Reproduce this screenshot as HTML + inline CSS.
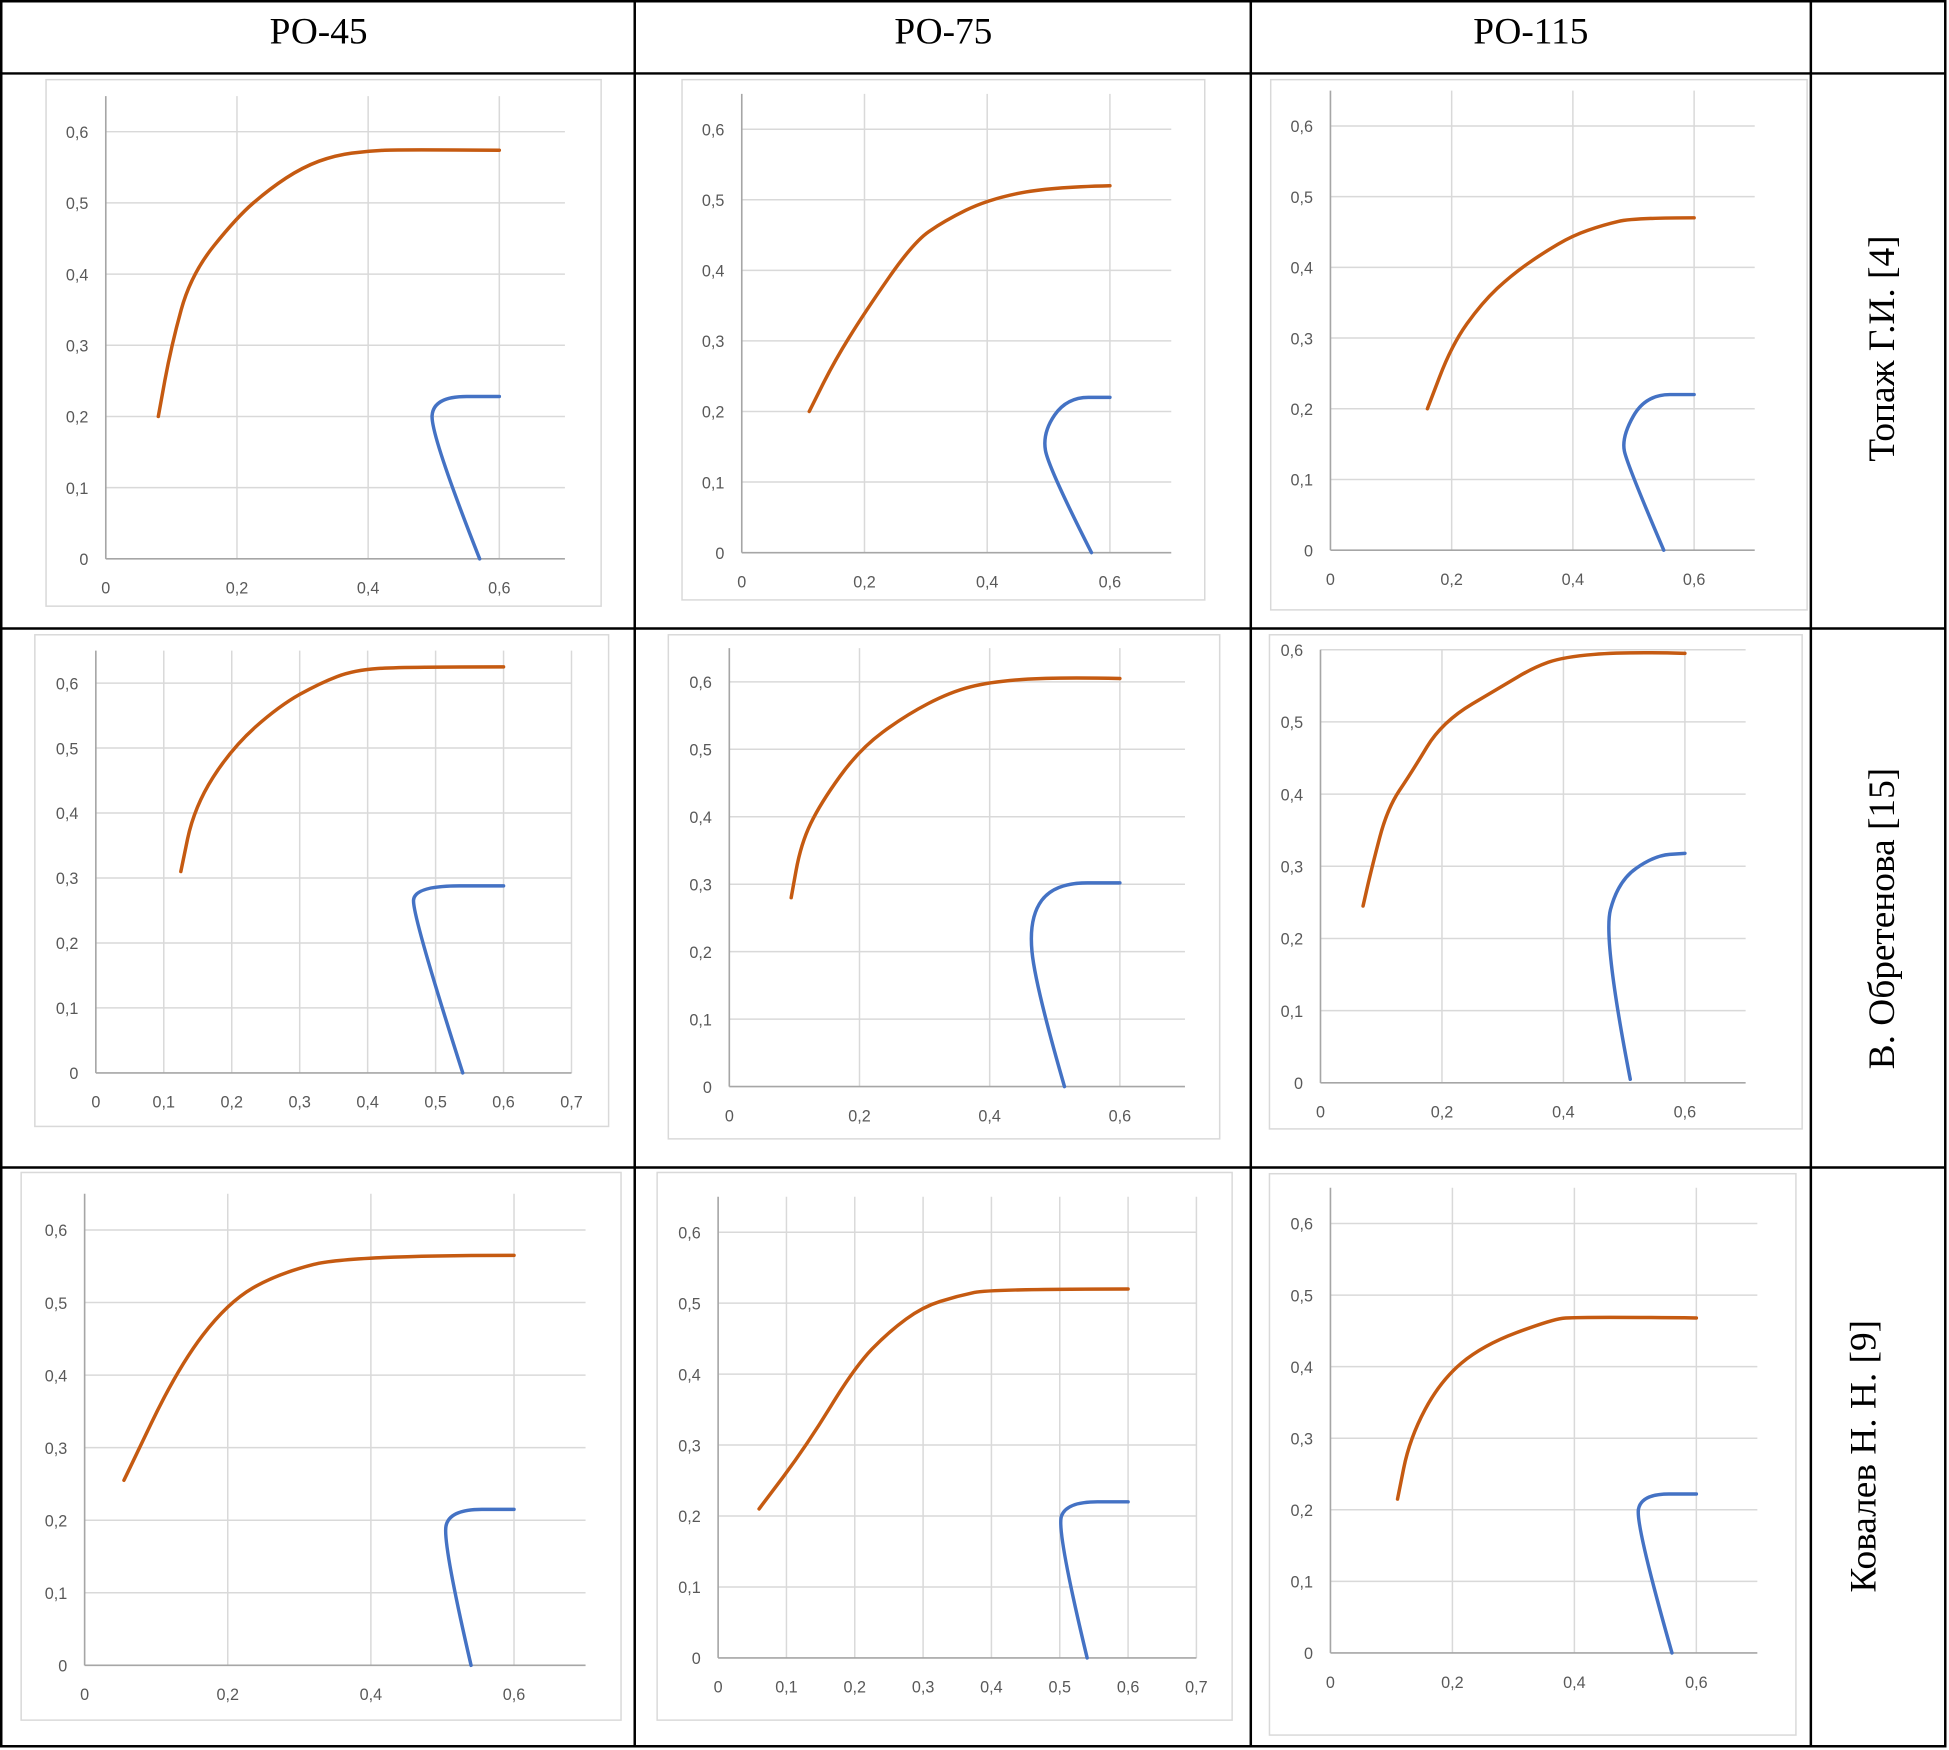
<!DOCTYPE html>
<html><head><meta charset="utf-8">
<style>
html,body{margin:0;padding:0;background:#fff;}
svg{display:block;}
.tick{font-family:"Liberation Sans",sans-serif;font-size:13px;fill:#595959;}
.hdr{font-family:"Liberation Serif",serif;font-size:30px;fill:#000;}
</style></head>
<body>
<svg id="root" width="1949" height="1750" viewBox="0 0 1566 1406" preserveAspectRatio="none" xmlns="http://www.w3.org/2000/svg">
<g stroke="#000" stroke-width="2" fill="none">
<rect x="1" y="1" width="1562" height="1402"/>
<line x1="510" y1="1" x2="510" y2="1403"/>
<line x1="1005" y1="1" x2="1005" y2="1403"/>
<line x1="1455" y1="1" x2="1455" y2="1403"/>
<line x1="1" y1="59" x2="1563" y2="59"/>
<line x1="1" y1="505" x2="1563" y2="505"/>
<line x1="1" y1="938" x2="1563" y2="938"/>
</g>
<text class="hdr" x="256" y="35" text-anchor="middle">РО-45</text>
<text class="hdr" x="758" y="35" text-anchor="middle">РО-75</text>
<text class="hdr" x="1230" y="35" text-anchor="middle">РО-115</text>
<text class="hdr" transform="translate(1522,280) rotate(-90)" text-anchor="middle">Топаж Г.И. [4]</text>
<text class="hdr" transform="translate(1522,738) rotate(-90)" text-anchor="middle">В. Обретенова [15]</text>
<text class="hdr" transform="translate(1507,1170) rotate(-90)" text-anchor="middle">Ковалев Н. Н. [9]</text>
</svg>
<script>
const xTicks6 = ["0","0,2","0,4","0,6"];
const xTicks7 = ["0","0,1","0,2","0,3","0,4","0,5","0,6","0,7"];
const yTicks = ["0","0,1","0,2","0,3","0,4","0,5","0,6"];

const o1x=[0.08,0.1,0.13,0.2,0.25,0.3,0.35,0.4,0.45,0.6];
const o1y=[0.2,0.3,0.4,0.48,0.52,0.55,0.567,0.573,0.575,0.574];
const b1x=[0.6,0.5,0.495,0.57];
const b1y=[0.228,0.228,0.175,0];

const o2x=[0.11,0.15,0.2,0.28,0.33,0.4,0.5,0.6];
const o2y=[0.2,0.27,0.34,0.44,0.47,0.5,0.518,0.52];
const b2x=[0.6,0.53,0.49,0.5,0.57];
const b2y=[0.22,0.22,0.17,0.12,0];

const o3x=[0.16,0.2,0.25,0.3,0.35,0.4,0.45,0.5,0.6];
const o3y=[0.2,0.29,0.35,0.39,0.42,0.445,0.46,0.47,0.47];
const b3x=[0.6,0.52,0.48,0.49,0.55];
const b3y=[0.22,0.22,0.16,0.12,0];

const o4x=[0.125,0.145,0.2,0.27,0.33,0.38,0.45,0.6];
const o4y=[0.31,0.41,0.5,0.565,0.6,0.62,0.625,0.625];
const b4x=[0.6,0.47,0.465,0.54];
const b4y=[0.288,0.288,0.245,0];

const o5x=[0.095,0.11,0.14,0.2,0.27,0.34,0.4,0.5,0.6];
const o5y=[0.28,0.36,0.42,0.5,0.55,0.585,0.6,0.607,0.605];
const b5x=[0.6,0.5,0.46,0.47,0.515];
const b5y=[0.302,0.302,0.25,0.15,0];

const o6x=[0.07,0.085,0.11,0.15,0.2,0.3,0.35,0.4,0.5,0.6];
const o6y=[0.245,0.3,0.38,0.43,0.5,0.55,0.575,0.59,0.597,0.595];
const b6x=[0.6,0.55,0.49,0.465,0.51];
const b6y=[0.318,0.315,0.28,0.2,0.005];

const o7x=[0.055,0.13,0.2,0.27,0.37,0.6];
const o7y=[0.255,0.41,0.5,0.54,0.565,0.565];
const b7x=[0.6,0.51,0.5,0.54];
const b7y=[0.215,0.215,0.17,0];

const o8x=[0.06,0.13,0.2,0.25,0.3,0.35,0.4,0.6];
const o8y=[0.21,0.3,0.41,0.46,0.495,0.51,0.52,0.52];
const b8x=[0.6,0.51,0.495,0.54];
const b8y=[0.22,0.22,0.18,0];

const o9x=[0.11,0.13,0.18,0.25,0.36,0.4,0.6];
const o9y=[0.215,0.3,0.38,0.43,0.465,0.47,0.468];
const b9x=[0.6,0.51,0.5,0.56];
const b9y=[0.222,0.222,0.18,0];

const charts=[
 {n:"po45-topazh",f:[37,64,446,423],x0:85,kx:52.7,y0:449,ky:57.2,xmax:0.7,ymax:0.65,t:xTicks6,ox:o1x,oy:o1y,bx:b1x,by:b1y},
 {n:"po75-topazh",f:[548,64,420,418],x0:596,kx:49.3,y0:444,ky:56.7,xmax:0.7,ymax:0.65,t:xTicks6,ox:o2x,oy:o2y,bx:b2x,by:b2y},
 {n:"po115-topazh",f:[1021,64,431,426],x0:1069,kx:48.7,y0:442,ky:56.8,xmax:0.7,ymax:0.65,t:xTicks6,ox:o3x,oy:o3y,bx:b3x,by:b3y},
 {n:"po45-obretenova",f:[28,510,461,395],x0:77,kx:54.6,y0:862,ky:52.2,xmax:0.7,ymax:0.65,t:xTicks7,ox:o4x,oy:o4y,bx:b4x,by:b4y},
 {n:"po75-obretenova",f:[537,510,443,405],x0:586,kx:52.3,y0:873,ky:54.2,xmax:0.7,ymax:0.65,t:xTicks6,ox:o5x,oy:o5y,bx:b5x,by:b5y},
 {n:"po115-obretenova",f:[1020,510,428,397],x0:1061,kx:48.8,y0:870,ky:58,xmax:0.7,ymax:0.6,t:xTicks6,ox:o6x,oy:o6y,bx:b6x,by:b6y},
 {n:"po45-kovalev",f:[17,942,482,440],x0:68,kx:57.5,y0:1338,ky:58.3,xmax:0.7,ymax:0.65,t:xTicks6,ox:o7x,oy:o7y,bx:b7x,by:b7y},
 {n:"po75-kovalev",f:[528,942,462,440],x0:577,kx:54.9,y0:1332,ky:57,xmax:0.7,ymax:0.65,t:xTicks7,ox:o8x,oy:o8y,bx:b8x,by:b8y},
 {n:"po115-kovalev",f:[1020,943,423,451],x0:1069,kx:49,y0:1328,ky:57.5,xmax:0.7,ymax:0.65,t:xTicks6,ox:o9x,oy:o9y,bx:b9x,by:b9y}
];
const NS="http://www.w3.org/2000/svg";
const root=document.getElementById('root');
function mk(tag,attrs,parent){const e=document.createElementNS(NS,tag);for(const k in attrs)e.setAttribute(k,attrs[k]);parent.appendChild(e);return e;}
function f(p){return p[0].toFixed(1)+","+p[1].toFixed(1);}
function mid(a,b){return [(a[0]+b[0])/2,(a[1]+b[1])/2];}
function smooth(pts){
 const n=pts.length;
 if(n<3) return "M"+f(pts[0])+" L"+f(pts[n-1]);
 let d="M"+f(pts[0])+" L"+f(mid(pts[0],pts[1]));
 for(let i=1;i<n-1;i++){
  const end=(i===n-2)?pts[n-1]:mid(pts[i],pts[i+1]);
  d+=" Q"+f(pts[i])+" "+f(end);
 }
 return d;
}
charts.forEach(c=>{
 const g=mk('g',{},root);
 
 
 const sx=v=>c.x0+v*10*c.kx, sy=v=>c.y0-v*10*c.ky;
 const fr=mk('rect',{x:c.f[0],y:c.f[1],width:c.f[2],height:c.f[3],fill:'#fff',stroke:'#d9d9d9','stroke-width':1.2},g);
 
 
 const step=c.t.length>4?0.1:0.2;
 c.t.forEach((lab,i)=>{
  const v=i*step, x=sx(v);
  if(i>0){const l=mk('line',{x1:x,x2:x,y1:sy(c.ymax),y2:sy(0),stroke:'#d9d9d9','stroke-width':1.2},g);
   
   }
  const t=mk('text',{x:x,y:sy(0)+28,'text-anchor':'middle','class':'tick'},g);t.textContent=lab;
  
  
 });
 yTicks.forEach((lab,i)=>{
  const v=i*0.1,y=sy(v);
  if(i>0){const l=mk('line',{x1:sx(0),x2:sx(c.xmax),y1:y,y2:y,stroke:'#d9d9d9','stroke-width':1.2},g);
   
   }
  const t=mk('text',{x:sx(0)-14,y:y+5,'text-anchor':'end','class':'tick'},g);t.textContent=lab;
  
  
 });
 const ax=mk('line',{x1:sx(0),x2:sx(0),y1:sy(c.ymax),y2:sy(0),stroke:'#a6a6a6','stroke-width':1.3},g);
 
 
 const ay=mk('line',{x1:sx(0),x2:sx(c.xmax),y1:sy(0),y2:sy(0),stroke:'#a6a6a6','stroke-width':1.3},g);
 
 
 const op=c.ox.map((x,i)=>[sx(x),sy(c.oy[i])]);
 const o=mk('path',{d:smooth(op),fill:'none',stroke:'#c55a11','stroke-width':2.8,'stroke-linecap':'round','stroke-linejoin':'round'},g);
 
 
 const bp=c.bx.map((x,i)=>[sx(x),sy(c.by[i])]);
 const b=mk('path',{d:smooth(bp),fill:'none',stroke:'#4472c4','stroke-width':2.8,'stroke-linecap':'round','stroke-linejoin':'round'},g);
 
 
});
</script>
</body></html>
